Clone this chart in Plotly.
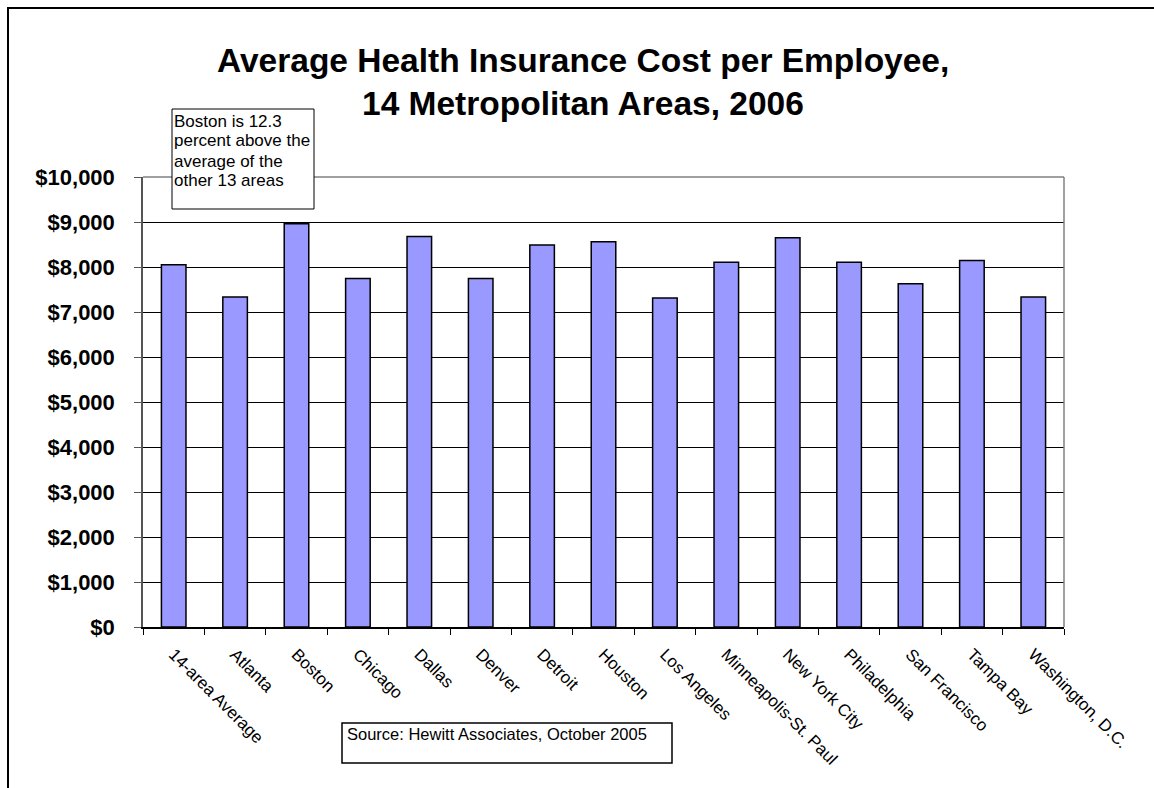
import plotly.graph_objects as go

categories = ["14-area Average", "Atlanta", "Boston", "Chicago", "Dallas", "Denver",
              "Detroit", "Houston", "Los Angeles", "Minneapolis-St. Paul",
              "New York City", "Philadelphia", "San Francisco", "Tampa Bay",
              "Washington, D.C."]
costs = [8050, 7333, 8960, 7747, 8680, 7747, 8490, 8563, 7311, 8103, 8651, 8103, 7629, 8147, 7333]
y_tick_values = [0, 1000, 2000, 3000, 4000, 5000, 6000, 7000, 8000, 9000, 10000]
y_tick_labels = ["$0", "$1,000", "$2,000", "$3,000", "$4,000", "$5,000",
                 "$6,000", "$7,000", "$8,000", "$9,000", "$10,000"]
title_lines = ["Average Health Insurance Cost per Employee,", "14 Metropolitan Areas, 2006"]
note_lines = ["Boston is 12.3", "percent above the", "average of the", "other 13 areas"]
source_text = "Source: Hewitt Associates, October 2005"

W, H = 1154, 788
L, R, T, B = 143, 1064, 177, 627
FONT = "Arial, 'Liberation Sans', sans-serif"


def px(x):
    return (x - L) / (R - L)


def py(y):
    return (B - y) / (B - T)


fig = go.Figure(go.Bar(
    x=categories, y=costs, width=0.4,
    marker=dict(color="#9999FF", line=dict(color="black", width=1.5)),
))

shapes = [
    # outer chart frame
    dict(type="rect", xref="paper", yref="paper", x0=px(8), x1=px(1170), y0=py(800), y1=py(8),
         line=dict(color="black", width=2), layer="below"),
    # plot area border top & right (gray)
    dict(type="line", xref="paper", yref="paper", x0=0, x1=1, y0=1, y1=1,
         line=dict(color="#808080", width=1.5), layer="above"),
    dict(type="line", xref="paper", yref="paper", x0=1, x1=1, y0=0, y1=1,
         line=dict(color="#808080", width=1.5), layer="above"),
    # note box
    dict(type="rect", xref="paper", yref="paper", x0=px(172), x1=px(314), y0=py(209), y1=py(109),
         line=dict(color="black", width=1), fillcolor="white", layer="above"),
    # source box
    dict(type="rect", xref="paper", yref="paper", x0=px(342), x1=px(672), y0=py(763), y1=py(723),
         line=dict(color="black", width=1.5), fillcolor="white", layer="above"),
]

annotations = []
title_baselines = [72, 115]
for line, base in zip(title_lines, title_baselines):
    annotations.append(dict(text=line, xref="paper", yref="paper", x=px(583), y=py(base - 11),
                            xanchor="center", yanchor="middle", showarrow=False,
                            font=dict(family=FONT, size=33.5, color="black", weight="bold")))
note_baselines = [127, 147, 167, 187]
for line, base in zip(note_lines, note_baselines):
    annotations.append(dict(text=line, xref="paper", yref="paper", x=px(172), y=py(base - 6),
                            xanchor="left", yanchor="middle", showarrow=False,
                            font=dict(family=FONT, size=17, color="black")))
annotations.append(dict(text=source_text, xref="paper", yref="paper", x=px(345), y=py(740 - 6),
                        xanchor="left", yanchor="middle", showarrow=False,
                        font=dict(family=FONT, size=16.5, color="black")))

fig.update_layout(
    width=W, height=H,
    margin=dict(l=L, r=W - R, t=T, b=H - B, pad=0),
    paper_bgcolor="white", plot_bgcolor="white",
    showlegend=False,
    bargap=0.6,
    shapes=shapes,
    annotations=annotations,
    font=dict(family=FONT, color="black"),
)
fig.update_xaxes(
    type="category", showline=True, linecolor="black", linewidth=1.5,
    ticks="outside", tickson="boundaries", ticklen=6, tickcolor="black", tickwidth=1,
    ticklabelstandoff=9,
    tickangle=45, tickfont=dict(family=FONT, size=17, color="black"),
    showgrid=False, zeroline=False,
)
fig.update_yaxes(
    range=[0, 10000], tickvals=y_tick_values, ticktext=y_tick_labels,
    showline=True, linecolor="#555555", linewidth=1.5,
    ticks="outside", ticklen=7, tickcolor="#555555", tickwidth=1,
    ticklabelstandoff=15,
    tickfont=dict(family=FONT, size=22, color="black", weight="bold"),
    showgrid=True, gridcolor="black", gridwidth=1, zeroline=False,
)

fig.write_html("out.html")
